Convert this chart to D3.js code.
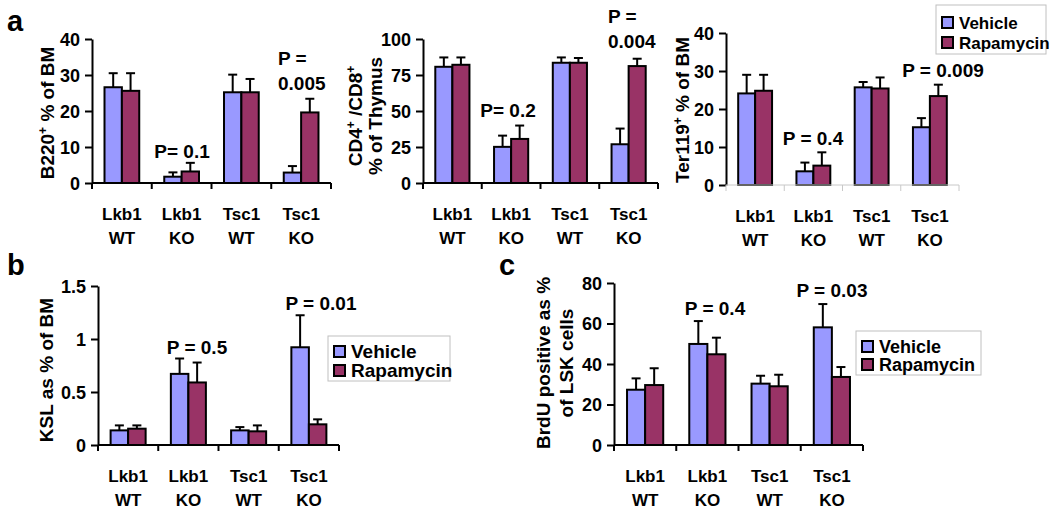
<!DOCTYPE html>
<html><head><meta charset="utf-8">
<script src="https://cdn.jsdelivr.net/npm/d3@7"></script>
<style>
html,body{margin:0;padding:0;background:#fff;}
svg text{font-family:"Liberation Sans",Arial,sans-serif;font-weight:bold;fill:#000;}
</style></head>
<body>
<svg id="chart" width="1050" height="515"></svg>
<script>
// ---------- DATA ----------
const categories = ["Lkb1 WT", "Lkb1 KO", "Tsc1 WT", "Tsc1 KO"];
const categoryLine1 = ["Lkb1", "Lkb1", "Tsc1", "Tsc1"];
const categoryLine2 = ["WT", "KO", "WT", "KO"];
const seriesNames = ["Vehicle", "Rapamycin"];

const b220Vehicle = [26.6, 1.75, 25.2, 2.9];
const b220VehicleErr = [3.9, 1.2, 4.9, 1.8];
const b220Rapamycin = [25.6, 3.2, 25.2, 19.6];
const b220RapamycinErr = [4.9, 2.4, 3.7, 3.8];
const b220Ticks = [0, 10, 20, 30, 40];

const cd4Vehicle = [80.7, 25.1, 83.5, 26.9];
const cd4VehicleErr = [6.5, 7.8, 3.7, 10.9];
const cd4Rapamycin = [82.1, 30.6, 83.5, 81.2];
const cd4RapamycinErr = [5.1, 9.3, 3.3, 5.1];
const cd4Ticks = [0, 25, 50, 75, 100];

const ter119Vehicle = [24.1, 3.6, 25.7, 15.2];
const ter119VehicleErr = [4.9, 2.3, 1.4, 2.4];
const ter119Rapamycin = [24.8, 5.1, 25.4, 23.4];
const ter119RapamycinErr = [4.2, 3.5, 2.9, 3.0];
const ter119Ticks = [0, 10, 20, 30, 40];

const kslVehicle = [0.138, 0.671, 0.138, 0.922];
const kslVehicleErr = [0.047, 0.145, 0.031, 0.302];
const kslRapamycin = [0.154, 0.590, 0.129, 0.195];
const kslRapamycinErr = [0.031, 0.188, 0.056, 0.047];
const kslTicks = [0, 0.5, 1, 1.5];

const brduVehicle = [27.3, 49.9, 30.3, 58.1];
const brduVehicleErr = [5.6, 11.3, 3.9, 11.5];
const brduRapamycin = [29.6, 44.8, 29.0, 33.6];
const brduRapamycinErr = [8.3, 8.2, 5.7, 4.9];
const brduTicks = [0, 20, 40, 60, 80];

// ---------- STYLE ----------
const colors = {Vehicle: "#9999ff", Rapamycin: "#993366"};
const svg = d3.select("#chart");

function sup(textSel, parts) {
  // parts: array of [text, isSup]
  parts.forEach(([t, s]) => {
    const ts = textSel.append("tspan").text(t);
    if (s) ts.attr("font-size", "12px").attr("dy", "-7");
    else if (textSel.node().childNodes.length > 1) ts.attr("dy", "7");
  });
}

function panel(cfg) {
  const g = svg.append("g");
  const x = d3.scaleBand().domain(categories).range([cfg.x0, cfg.x1]).padding(0);
  const inner = d3.scaleBand().domain(seriesNames).range([0, x.bandwidth()]).paddingInner(0).paddingOuter(0.72);
  const y = d3.scaleLinear().domain([0, cfg.ticks[cfg.ticks.length - 1]]).range([cfg.y0, cfg.y1]);
  const rows = [];
  categories.forEach((c, i) => {
    rows.push({c, s: "Vehicle", v: cfg.veh[i], e: cfg.vehErr[i]});
    rows.push({c, s: "Rapamycin", v: cfg.rap[i], e: cfg.rapErr[i]});
  });
  // error bars (behind bars)
  const eg = g.append("g");
  rows.forEach(r => {
    const cx = x(r.c) + inner(r.s) + inner.bandwidth() / 2;
    eg.append("line").attr("x1", cx).attr("x2", cx).attr("y1", y(r.v)).attr("y2", y(r.v + r.e))
      .attr("stroke", "#000").attr("stroke-width", 2);
    eg.append("line").attr("x1", cx - 4.5).attr("x2", cx + 4.5).attr("y1", y(r.v + r.e)).attr("y2", y(r.v + r.e))
      .attr("stroke", "#000").attr("stroke-width", 2);
  });
  g.append("g").selectAll("rect").data(rows).join("rect")
    .attr("x", d => x(d.c) + inner(d.s))
    .attr("y", d => y(d.v))
    .attr("width", inner.bandwidth())
    .attr("height", d => y(0) - y(d.v))
    .attr("fill", d => colors[d.s])
    .attr("stroke", "#000").attr("stroke-width", 2);
  // y axis
  const ya = d3.axisLeft(y).tickValues(cfg.ticks).tickSize(7).tickPadding(5).tickSizeOuter(0)
    .tickFormat(d => String(d));
  const yg = g.append("g").attr("transform", `translate(${cfg.x0},0)`).call(ya);
  yg.select(".domain").attr("stroke", "#000").attr("stroke-width", 2);
  yg.selectAll(".tick line").attr("stroke", "#000").attr("stroke-width", 2);
  yg.selectAll(".tick text").attr("font-size", "18px").attr("font-family", null).attr("dy", "0.36em");
  // x axis
  const axColor = cfg.grayX ? "#c8c8c8" : "#000";
  const axW = cfg.grayX ? 1 : 2;
  const xg = g.append("g");
  xg.append("line").attr("x1", cfg.x0).attr("x2", cfg.x1).attr("y1", y(0)).attr("y2", y(0))
    .attr("stroke", axColor).attr("stroke-width", axW);
  const edges = categories.map(c => x(c)).concat([cfg.x1]);
  edges.forEach((ex, i) => {
    if (i === 0 && !cfg.grayX) {
      xg.append("line").attr("x1", ex).attr("x2", ex).attr("y1", y(0)).attr("y2", y(0) + 6)
        .attr("stroke", axColor).attr("stroke-width", axW);
    } else {
      xg.append("line").attr("x1", ex).attr("x2", ex).attr("y1", y(0)).attr("y2", y(0) + 6)
        .attr("stroke", axColor).attr("stroke-width", axW);
    }
  });
  categories.forEach((c, i) => {
    const cx = x(c) + x.bandwidth() / 2;
    g.append("text").attr("x", cx).attr("y", y(0) + 37).attr("text-anchor", "middle")
      .attr("font-size", "17px").text(categoryLine1[i]);
    g.append("text").attr("x", cx).attr("y", y(0) + 61).attr("text-anchor", "middle")
      .attr("font-size", "17px").text(categoryLine2[i]);
  });
  // y label
  cfg.ylabel.forEach((line, k) => {
    const t = g.append("text")
      .attr("transform", `translate(${cfg.ylx[k]},${cfg.yly}) rotate(-90)`)
      .attr("text-anchor", "middle").attr("font-size", "19px");
    sup(t, line);
  });
  // p-value labels
  cfg.pLabels.forEach(p => {
    p.lines.forEach((ln, k) => {
      g.append("text").attr("x", p.x).attr("y", p.y + k * 25).attr("text-anchor", p.anchor || "middle")
        .attr("font-size", "19px").text(ln);
    });
  });
  // legend
  if (cfg.legend) {
    const L = cfg.legend;
    const lg = g.append("g");
    lg.append("rect").attr("x", L.x).attr("y", L.y).attr("width", L.w).attr("height", L.h)
      .attr("fill", "#fff").attr("stroke", "#c0c0c0").attr("stroke-width", 1);
    seriesNames.forEach((s, i) => {
      const ry = L.y + L.top + i * L.dy;
      lg.append("rect").attr("x", L.x + 6).attr("y", ry - L.sw + 1).attr("width", L.sw).attr("height", L.sw)
        .attr("fill", colors[s]).attr("stroke", "#000").attr("stroke-width", 2);
      lg.append("text").attr("x", L.x + 8 + L.sw + 4).attr("y", ry + 2).attr("font-size", L.fs).text(s);
    });
  }
}

// panel letters
[["a", 7, 31], ["b", 7, 275], ["c", 499, 275]].forEach(([t, lx, ly]) => {
  svg.append("text").attr("x", lx).attr("y", ly).attr("font-size", "29px").text(t);
});

panel({x0: 92, x1: 331, y0: 183, y1: 39, ticks: b220Ticks,
  veh: b220Vehicle, vehErr: b220VehicleErr, rap: b220Rapamycin, rapErr: b220RapamycinErr,
  ylabel: [[["B220", false], ["+", true], [" % of BM", false]]], ylx: [54], yly: 113,
  pLabels: [{x: 182, y: 158, lines: ["P= 0.1"]}, {x: 278, y: 65, anchor: "start", lines: ["P =", "0.005"]}]});

panel({x0: 423, x1: 658, y0: 183, y1: 39, ticks: cd4Ticks,
  veh: cd4Vehicle, vehErr: cd4VehicleErr, rap: cd4Rapamycin, rapErr: cd4RapamycinErr,
  ylabel: [[["CD4", false], ["+", true], [" /CD8", false], ["+", true]], [["% of Thymus", false]]],
  ylx: [362, 382], yly: 116,
  pLabels: [{x: 508, y: 117, lines: ["P= 0.2"]}, {x: 608, y: 23, anchor: "start", lines: ["P =", "0.004"]}]});

panel({x0: 726, x1: 959, y0: 185, y1: 33, ticks: ter119Ticks, grayX: true,
  veh: ter119Vehicle, vehErr: ter119VehicleErr, rap: ter119Rapamycin, rapErr: ter119RapamycinErr,
  ylabel: [[["Ter119", false], ["+", true], [" % of BM", false]]], ylx: [689], yly: 110,
  pLabels: [{x: 813, y: 145, lines: ["P = 0.4"]}, {x: 943, y: 77, lines: ["P = 0.009"]}],
  legend: {x: 936, y: 5, w: 110, h: 49, top: 22, dy: 20, sw: 11, fs: "17px"}});

panel({x0: 98, x1: 339, y0: 445, y1: 286, ticks: kslTicks,
  veh: kslVehicle, vehErr: kslVehicleErr, rap: kslRapamycin, rapErr: kslRapamycinErr,
  ylabel: [[["KSL as % of BM", false]]], ylx: [53], yly: 370,
  pLabels: [{x: 197, y: 354, lines: ["P = 0.5"]}, {x: 321, y: 310, lines: ["P = 0.01"]}],
  legend: {x: 328, y: 336, w: 122, h: 45, top: 20, dy: 19, sw: 11, fs: "19px"}});

panel({x0: 614, x1: 863, y0: 445, y1: 283, ticks: brduTicks,
  veh: brduVehicle, vehErr: brduVehicleErr, rap: brduRapamycin, rapErr: brduRapamycinErr,
  ylabel: [[["BrdU positive as %", false]], [["of LSK cells", false]]], ylx: [550, 573], yly: 363,
  pLabels: [{x: 715, y: 315, lines: ["P = 0.4"]}, {x: 832, y: 297, lines: ["P = 0.03"]}],
  legend: {x: 856, y: 331, w: 125, h: 44, top: 20, dy: 18, sw: 11, fs: "18px"}});
</script>
</body></html>
